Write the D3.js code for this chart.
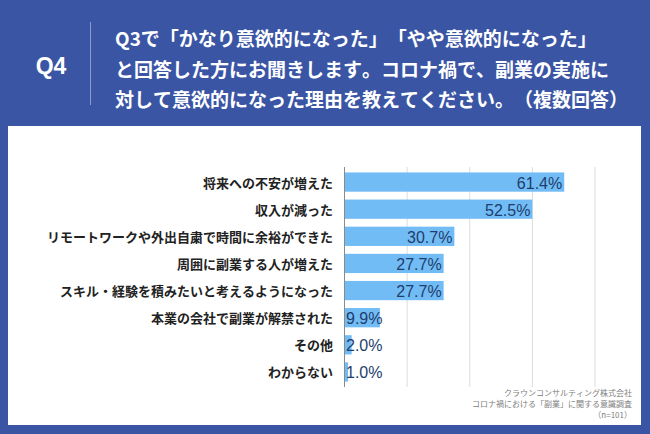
<!DOCTYPE html>
<html><head><meta charset="utf-8">
<script src="https://cdn.jsdelivr.net/npm/d3@7"></script>
<style>
html,body{margin:0;padding:0;background:#3b55a5;}
svg{display:block;}
text{text-spacing-trim:space-all;font-kerning:none;}
</style></head>
<body>
<script>
const categories = ["将来への不安が増えた","収入が減った","リモートワークや外出自粛で時間に余裕ができた","周囲に副業する人が増えた","スキル・経験を積みたいと考えるようになった","本業の会社で副業が解禁された","その他","わからない"];
const values = [61.4, 52.5, 30.7, 27.7, 27.7, 9.9, 2.0, 1.0];
const gridTicks = [0, 17.5, 35, 52.5, 70];
const titleLines = ["Q3で「かなり意欲的になった」「やや意欲的になった」","と回答した方にお聞きします。コロナ禍で、副業の実施に","対して意欲的になった理由を教えてください。（複数回答）"];
const footerLines = ["クラウンコンサルティング株式会社","コロナ禍における「副業」に関する意識調査","（n=101）"];

const W = 650, H = 434;
const jp = "'Noto Sans CJK JP','Noto Sans',sans-serif";
const svg = d3.select("body").append("svg").attr("width", W).attr("height", H);
svg.append("rect").attr("width", W).attr("height", H).attr("fill", "#3b55a5");

// Header
svg.append("text").attr("x", 51).attr("y", 66).attr("text-anchor", "middle")
  .attr("dominant-baseline", "central").attr("fill", "#fff")
  .attr("font-family", "'Liberation Sans',Arial,sans-serif").attr("font-weight", "bold")
  .attr("font-size", 23).text("Q4");
svg.append("line").attr("x1", 90.5).attr("x2", 90.5).attr("y1", 22).attr("y2", 105)
  .attr("stroke", "#8d9bcb").attr("stroke-width", 1);
svg.append("g").selectAll("text").data(titleLines).join("text")
  .attr("x", 115).attr("y", (d, i) => 37.5 + i * 30.5)
  .attr("dominant-baseline", "central").attr("fill", "#fff")
  .attr("font-family", jp).attr("font-weight", "bold").attr("font-size", 19)
  .text(d => d);

// Panel
svg.append("rect").attr("x", 8).attr("y", 126).attr("width", 633).attr("height", 299).attr("fill", "#fff");

const x = d3.scaleLinear().domain([0, 70]).range([344.5, 595]);
const y = d3.scaleBand().domain(categories).range([167, 387]).paddingInner(0.29).paddingOuter(0.2);

svg.append("g").selectAll("line").data(gridTicks.slice(1)).join("line")
  .attr("x1", d => x(d)).attr("x2", d => x(d)).attr("y1", 167).attr("y2", 387)
  .attr("stroke", "#dcdcdc").attr("stroke-width", 1);

svg.append("g").selectAll("rect").data(values).join("rect")
  .attr("x", x(0)).attr("y", (d, i) => y(categories[i]))
  .attr("width", d => x(d) - x(0)).attr("height", y.bandwidth())
  .attr("fill", "#72bcf5");

svg.append("line").attr("x1", x(0)).attr("x2", x(0)).attr("y1", 167).attr("y2", 387)
  .attr("stroke", "#8a8a8a").attr("stroke-width", 1);

// Category labels
svg.append("g").selectAll("text").data(categories).join("text")
  .attr("x", 333).attr("y", d => y(d) + y.bandwidth() / 2)
  .attr("text-anchor", "end").attr("dominant-baseline", "central")
  .attr("fill", "#222").attr("font-family", jp).attr("font-weight", "bold").attr("font-size", 13)
  .text(d => d);

// Value labels
const vl = svg.append("g").selectAll("text").data(values).join("text")
  .attr("y", (d, i) => y(categories[i]) + y.bandwidth() / 2 + 1)
  .attr("dominant-baseline", "central")
  .attr("fill", "#1e3d6d").attr("font-family", "'Liberation Sans',Arial,sans-serif").attr("font-size", 16)
  .text(d => d.toFixed(1) + "%");
vl.each(function(d) {
  const w = this.getComputedTextLength();
  const end = x(d) - 2;
  const el = d3.select(this);
  if (end - w < x(0) + 1.5) el.attr("x", x(0) + 1.5).attr("text-anchor", "start");
  else el.attr("x", end).attr("text-anchor", "end");
});

// Footer
svg.append("g").selectAll("text").data(footerLines).join("text")
  .attr("x", 632).attr("y", (d, i) => 392 + i * 11)
  .attr("text-anchor", "end").attr("dominant-baseline", "central")
  .attr("fill", "#808080").attr("font-family", jp).attr("font-size", 8)
  .text(d => d);
</script>
</body></html>
